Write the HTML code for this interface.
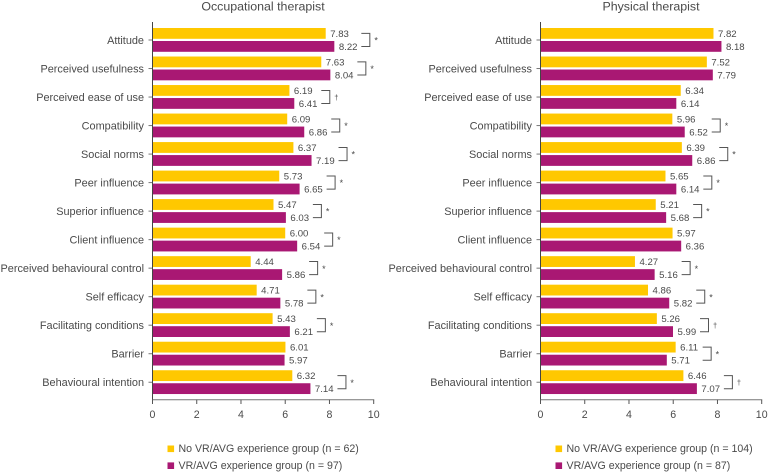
<!DOCTYPE html>
<html>
<head>
<meta charset="utf-8">
<style>
html,body{margin:0;padding:0;background:#fff}
svg{display:block}
text{font-family:"Liberation Sans",sans-serif;fill:#4a4a4a}
</style>
</head>
<body>
<svg id="chart" width="768" height="473" viewBox="0 0 768 473" xmlns="http://www.w3.org/2000/svg"></svg>
<script>
const categories = ["Attitude","Perceived usefulness","Perceived ease of use","Compatibility","Social norms","Peer influence","Superior influence","Client influence","Perceived behavioural control","Self efficacy","Facilitating conditions","Barrier","Behavioural intention"];
const tickLabels = [0,2,4,6,8,10];
const otNoExperience = [7.83,7.63,6.19,6.09,6.37,5.73,5.47,6.00,4.44,4.71,5.43,6.01,6.32];
const otExperience = [8.22,8.04,6.41,6.86,7.19,6.65,6.03,6.54,5.86,5.78,6.21,5.97,7.14];
const otSignificance = ["*","*","†","*","*","*","*","*","*","*","*","","*"];
const ptNoExperience = [7.82,7.52,6.34,5.96,6.39,5.65,5.21,5.97,4.27,4.86,5.26,6.11,6.46];
const ptExperience = [8.18,7.79,6.14,6.52,6.86,6.14,5.68,6.36,5.16,5.82,5.99,5.71,7.07];
const ptSignificance = ["","","","*","*","*","*","","*","*","†","*","†"];
const otLegend = ["No VR/AVG experience group (n = 62)","VR/AVG experience group (n = 97)"];
const ptLegend = ["No VR/AVG experience group (n = 104)","VR/AVG experience group (n = 87)"];

const NS = "http://www.w3.org/2000/svg";
const svg = document.getElementById("chart");
const YELLOW = "#ffc800", PURPLE = "#a91873", AXIS = "#777";

function make(parent, tag, attrs, txt){
  const el = document.createElementNS(NS, tag);
  for (const k in attrs) el.setAttribute(k, attrs[k]);
  if (txt !== undefined) el.textContent = txt;
  parent.appendChild(el);
  return el;
}

function drawPanel(cfg){
  const x = v => cfg.x0 + v * 22.12;
  const rowY = i => 40 + i * 28.52;
  const g = make(svg, "g", {});
  
  

  const title = make(g, "text", {x: cfg.titleX, y: 10.5, "font-size": 12.4, "text-anchor": "middle"}, cfg.title);
  
  

  categories.forEach((c, i) => {
    const y = rowY(i);
    const label = make(g, "text", {x: cfg.x0 - 8.5, y: y + 3.8, "font-size": 10.9, "text-anchor": "end"}, c);
    
    

    const tick = make(g, "rect", {x: cfg.x0 - 4, y: y - 0.5, width: 4, height: 1, fill: AXIS});
    
    

    const a = cfg.a[i], b = cfg.b[i];
    const barA = make(g, "rect", {x: cfg.x0, y: y - 12, width: x(a) - cfg.x0, height: 10.8, fill: YELLOW});
    
    

    const barB = make(g, "rect", {x: cfg.x0, y: y + 1, width: x(b) - cfg.x0, height: 10.8, fill: PURPLE});
    
    

    const valA = make(g, "text", {x: x(a) + 4.5, y: y - 3.2, "font-size": 9.6}, a.toFixed(2));
    
    

    const valB = make(g, "text", {x: x(b) + 4.5, y: y + 10, "font-size": 9.6}, b.toFixed(2));
    
    

    const sig = cfg.sig[i];
    if (sig) {
      const bx = x(Math.max(a, b)) + 27;
      const bracket = make(g, "path", {d: `M${bx} ${y-6.6}H${bx+8.5}V${y+6.5}H${bx}`, fill: "none", stroke: "#555", "stroke-width": 1});
      
      

      const mark = make(g, "text", {x: bx + 13, y: y + (sig === "*" ? 3.6 : 2.8), "font-size": sig === "*" ? 9 : 7.5}, sig);
      
      
    }
  });

  const yAxis = make(g, "line", {x1: cfg.x0, x2: cfg.x0, y1: 22, y2: 404, stroke: "#444", "stroke-width": 1});
  
  

  const xAxis = make(g, "line", {x1: cfg.x0, x2: x(10) + 0.5, y1: 399.7, y2: 399.7, stroke: AXIS, "stroke-width": 1});
  
  

  tickLabels.forEach(t => {
    const tick = make(g, "line", {x1: x(t), x2: x(t), y1: 399.7, y2: 404, stroke: "#555", "stroke-width": 1});
    
    

    const label = make(g, "text", {x: x(t), y: 418, "font-size": 10.6, "text-anchor": "middle"}, t);
    
    
  });

  [[YELLOW, 448.8], [PURPLE, 465.7]].forEach((l, i) => {
    const swatch = make(g, "rect", {x: cfg.legendX, y: l[1] - 3.3, width: 6.6, height: 6.6, fill: l[0]});
    
    

    const label = make(g, "text", {x: cfg.legendX + 11, y: l[1] + 3.4, "font-size": 10.6}, cfg.legend[i]);
    
    
  });
}

drawPanel({name:"occupational-therapist-panel", title:"Occupational therapist", titleX:263, x0:152.5, a:otNoExperience, b:otExperience, sig:otSignificance, legend:otLegend, legendX:167.5});
drawPanel({name:"physical-therapist-panel", title:"Physical therapist", titleX:651, x0:540.5, a:ptNoExperience, b:ptExperience, sig:ptSignificance, legend:ptLegend, legendX:555.5});
</script>
</body>
</html>
